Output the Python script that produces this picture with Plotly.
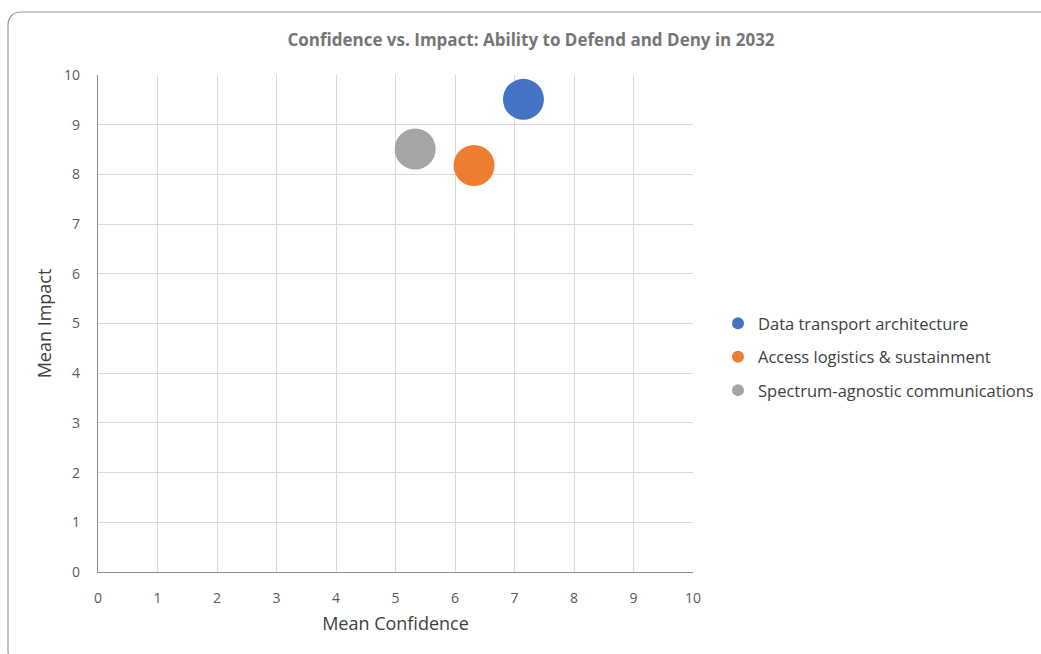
import plotly.graph_objects as go

# ---- data ----
series_names = ["Data transport architecture", "Access logistics & sustainment", "Spectrum-agnostic communications"]
mean_confidence = [7.15, 6.32, 5.33]
mean_impact = [9.51, 8.18, 8.51]
bubble_size = [1.0, 1.0, 1.0]
colors = ["#4472C4", "#ED7D31", "#A5A5A5"]
ticks = list(range(0, 11))

W, H = 1041, 654
L, R, T, B = 98, 348, 75, 82
PW, PH = W - L - R, H - T - B

def px2paper(x, y):
    return (x - L) / PW, (H - B - y) / PH

FONT = "Open Sans, Segoe UI, sans-serif"

fig = go.Figure()
for name, x, y, s, c in zip(series_names, mean_confidence, mean_impact, bubble_size, colors):
    fig.add_trace(go.Scatter(
        x=[x], y=[y], mode="markers", name=name, legendgroup=name,
        marker=dict(size=[41 * s], color=c, line=dict(width=0), opacity=1),
    ))

# rounded border of chart area
x0, y0, x1, y1, r = 8, 12, 1070, 664, 14
def P(x, y):
    a, b = px2paper(x, y)
    return f"{a:.5f},{b:.5f}"
path = (f"M {P(x0, y0 + r)} Q {P(x0, y0)} {P(x0 + r, y0)} L {P(x1, y0)} "
        f"M {P(x0, y0 + r)} L {P(x0, y1 - r)} Q {P(x0, y1)} {P(x0 + r, y1)} L {P(x1, y1)}")

fig.update_layout(
    width=W, height=H,
    margin=dict(l=L, r=R, t=T, b=B, autoexpand=False),
    paper_bgcolor="white", plot_bgcolor="white",
    font=dict(family=FONT, color="#595959"),
    title=dict(text="<b>Confidence vs. Impact: Ability to Defend and Deny in 2032</b>",
               x=531 / W, xanchor="center", y=1 - 40 / H, yanchor="middle",
               font=dict(size=17, color="#767676", family=FONT)),
    showlegend=True,
    legend=dict(x=px2paper(718, 0)[0], xanchor="left", y=px2paper(0, 306)[1], yanchor="top",
                font=dict(size=16.5, color="#404040", family=FONT),
                itemsizing="constant", tracegroupgap=9, bgcolor="rgba(0,0,0,0)"),
    shapes=[dict(type="path", path=path, xref="paper", yref="paper",
                 line=dict(color="#9a9a9a", width=1.2), layer="above")],
)
fig.update_xaxes(range=[0, 10], tickvals=ticks, showgrid=True, gridcolor="#d9d9d9", gridwidth=1,
                 zeroline=False, showline=True, linecolor="#8c8c8c", linewidth=1.3,
                 tickfont=dict(size=14, color="#595959"), ticklabelstandoff=13,
                 title=dict(text="Mean Confidence", font=dict(size=18, color="#404040"), standoff=11),
                 mirror=False, fixedrange=True)
fig.update_yaxes(range=[0, 10], tickvals=ticks, showgrid=True, gridcolor="#d9d9d9", gridwidth=1,
                 zeroline=False, showline=True, linecolor="#8c8c8c", linewidth=1.3,
                 tickfont=dict(size=14, color="#595959"), ticklabelstandoff=14,
                 title=dict(text="Mean Impact", font=dict(size=18, color="#404040"), standoff=7),
                 fixedrange=True)

fig.write_html("out.html", config={"displayModeBar": False},
               post_script="document.body.style.margin='0';document.body.style.overflow='hidden';")
